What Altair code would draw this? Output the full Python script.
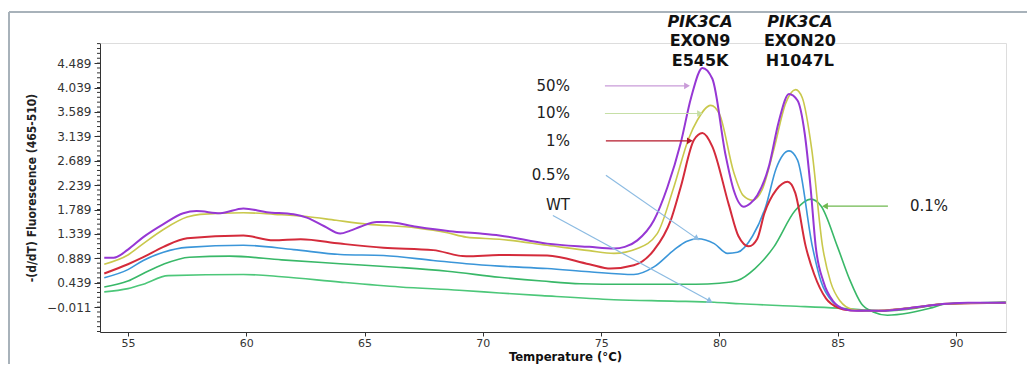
import math
import altair as alt
import pandas as pd

# ---------------- data ----------------
series_names = ["WT", "0.1%", "0.5%", "1%", "10%", "50%"]
series_colors = ["#4cc779", "#39b868", "#3b96d9", "#d42b3b", "#c9c84c", "#9637d4"]

wt_t = [54.0, 55.0, 55.65, 56.7, 59.88, 61.5, 63.97, 66.5, 69.0, 70.7, 72.5, 75.54, 78.0, 79.78, 80.9, 83.0, 85.0, 86.0, 87.0, 88.0, 89.0, 89.6, 92.1]
wt_v = [0.27, 0.33, 0.41, 0.57, 0.59, 0.55, 0.45, 0.36, 0.30, 0.25, 0.20, 0.126, 0.10, 0.08, 0.05, 0.01, -0.03, -0.06, -0.08, -0.05, 0.02, 0.05, 0.08]

p01_t = [54.0, 55.0, 55.65, 56.5, 57.6, 59.3, 61.5, 63.97, 66.5, 68.5, 70.7, 72.5, 74.13, 76.0, 79.0, 80.0, 80.76, 81.5, 82.3, 83.2, 83.86, 84.3, 84.99, 85.5, 86.0, 86.5, 87.1, 88.0, 89.0, 89.6, 92.1]
p01_v = [0.36, 0.47, 0.61, 0.78, 0.91, 0.93, 0.86, 0.79, 0.72, 0.65, 0.54, 0.47, 0.42, 0.41, 0.41, 0.43, 0.48, 0.70, 1.10, 1.77, 1.98, 1.85, 1.10, 0.50, 0.05, -0.10, -0.16, -0.12, -0.02, 0.05, 0.08]

p05_t = [54.0, 55.0, 55.65, 56.5, 57.5, 59.88, 62.0, 63.97, 65.8, 67.9, 69.3, 70.7, 72.72, 74.5, 76.38, 77.23, 78.07, 78.6, 79.07, 79.78, 80.34, 80.76, 81.4, 81.96, 82.4, 82.94, 83.3, 83.93, 84.3, 84.8, 85.4, 86.5, 88.0, 89.6, 92.1]
p05_v = [0.53, 0.68, 0.85, 1.00, 1.09, 1.13, 1.05, 0.96, 0.94, 0.85, 0.79, 0.745, 0.70, 0.64, 0.59, 0.73, 1.04, 1.20, 1.25, 1.16, 0.98, 1.00, 1.30, 1.85, 2.55, 2.87, 2.70, 1.10, 0.45, 0.08, -0.06, -0.08, -0.03, 0.05, 0.07]

p1_t = [54.0, 55.0, 55.65, 56.5, 57.5, 59.88, 61.15, 62.3, 63.97, 65.8, 67.9, 69.3, 70.7, 72.72, 74.5, 75.4, 76.38, 77.23, 77.94, 78.36, 78.92, 79.28, 79.7, 80.4, 80.8, 81.24, 81.6, 81.9, 82.4, 82.88, 83.2, 83.65, 84.0, 84.5, 85.0, 85.5, 86.5, 88.0, 89.6, 92.1]
p1_v = [0.61, 0.78, 0.91, 1.10, 1.26, 1.31, 1.22, 1.24, 1.16, 1.085, 1.04, 0.925, 0.95, 0.94, 0.78, 0.70, 0.76, 1.04, 1.59, 2.20, 3.07, 3.20, 2.95, 1.87, 1.30, 1.11, 1.25, 1.72, 2.15, 2.30, 2.10, 1.10, 0.60, 0.15, -0.02, -0.07, -0.08, -0.03, 0.05, 0.07]

p10_t = [54.0, 55.0, 55.65, 56.5, 57.5, 58.05, 59.88, 61.2, 62.56, 63.8, 65.1, 67.2, 68.5, 69.3, 70.7, 72.72, 74.5, 75.54, 76.53, 77.37, 78.07, 78.7, 79.07, 79.63, 80.0, 80.6, 81.0, 81.4, 81.8, 82.3, 82.8, 83.22, 83.5, 83.9, 84.36, 84.7, 85.1, 85.6, 86.2, 87.0, 88.0, 89.6, 92.1]
p10_v = [0.78, 0.95, 1.16, 1.42, 1.65, 1.70, 1.73, 1.70, 1.66, 1.59, 1.52, 1.45, 1.36, 1.28, 1.24, 1.13, 1.03, 0.98, 1.07, 1.345, 2.20, 3.10, 3.44, 3.71, 3.55, 2.48, 2.05, 1.96, 2.15, 2.90, 3.75, 4.00, 3.85, 2.90, 1.10, 0.45, 0.10, -0.05, -0.08, -0.07, -0.03, 0.05, 0.07]

p50_t = [54.0, 54.4, 55.0, 55.65, 56.5, 57.34, 57.9, 58.9, 59.88, 60.87, 62.0, 62.56, 63.3, 63.97, 64.4, 64.82, 65.52, 65.95, 67.2, 68.6, 69.9, 70.7, 72.72, 74.5, 75.54, 76.0, 76.53, 77.23, 77.8, 78.36, 78.8, 79.28, 79.7, 80.26, 80.6, 81.03, 81.3, 81.6, 82.1, 82.5, 82.94, 83.3, 83.6, 83.85, 84.07, 84.4, 84.8, 85.3, 85.8, 86.8, 88.0, 89.6, 90.5, 92.1]
p50_v = [0.90, 0.90, 1.05, 1.28, 1.52, 1.72, 1.76, 1.72, 1.81, 1.74, 1.70, 1.64, 1.48, 1.345, 1.40, 1.47, 1.56, 1.56, 1.47, 1.39, 1.345, 1.31, 1.16, 1.10, 1.07, 1.10, 1.22, 1.59, 2.20, 3.01, 3.85, 4.40, 4.20, 2.79, 2.15, 1.84, 1.90, 2.05, 2.60, 3.40, 3.92, 3.80, 3.20, 2.20, 1.10, 0.45, 0.10, -0.05, -0.08, -0.08, -0.03, 0.05, 0.07, 0.07]

curves_t = [wt_t, p01_t, p05_t, p1_t, p10_t, p50_t]
curves_v = [wt_v, p01_v, p05_v, p1_v, p10_v, p50_v]

y_ticks = [-0.011, 0.439, 0.889, 1.339, 1.789, 2.239, 2.689, 3.139, 3.589, 4.039, 4.489]
y_minor = [round(-0.461 + 0.09 * i, 3) for i in range(0, 60) if -0.47 < -0.461 + 0.09 * i < 4.86]
x_ticks = [55, 60, 65, 70, 75, 80, 85, 90]

# annotation labels (data coordinates)
lab_text = ["50%", "10%", "1%", "0.5%", "WT"]
lab_t = [73.68, 73.68, 73.68, 73.68, 73.68]
lab_v = [4.07, 3.56, 3.055, 2.42, 1.867]
lab01_text = ["0.1%"]
lab01_t = [88.05]
lab01_v = [1.85]

# arrows: start -> end (data coordinates)
arr_t0 = [75.16, 75.16, 75.2, 75.2, 72.96, 87.12]
arr_v0 = [4.07, 3.56, 3.055, 2.42, 1.68, 1.85]
arr_t1 = [78.63, 79.18, 78.75, 79.05, 79.6, 84.46]
arr_v1 = [4.07, 3.56, 3.055, 1.252, 0.10, 1.85]
arr_colors = ["#c99bd8", "#c6dfa6", "#b5182a", "#8cbbe2", "#8cbbe2", "#6fb84f"]

head_lines = ["PIK3CA", "EXON9", "E545K", "PIK3CA", "EXON20", "H1047L"]
head_t = [79.18, 79.18, 79.18, 83.4, 83.4, 83.4]
head_v = [5.25, 4.90, 4.53, 5.25, 4.90, 4.53]
head_style = ["italic", "normal", "normal", "italic", "normal", "normal"]

# ---------------- chart ----------------
X_DOM = [53.82, 92.11]
Y_DOM = [-0.47, 4.86]
W, H = 906, 289

xs = alt.Scale(domain=X_DOM, nice=False, zero=False)
ys = alt.Scale(domain=Y_DOM, nice=False, zero=False)

x_axis = alt.Axis(values=x_ticks, title="Temperature (°C)", grid=False,
                  labelFont="DejaVu Sans", labelFontSize=11, labelColor="#333333",
                  tickSize=4, tickColor="#333333", domainColor="#333333",
                  titleFont="Liberation Sans Narrow, DejaVu Sans Condensed, Liberation Sans",
                  titleFontSize=13, titleFontWeight="bold", titleColor="#111111",
                  titlePadding=2, labelPadding=1, titleX=W / 2 + 12)
y_axis = alt.Axis(values=y_ticks, format=".3f", title="-(d/dT) Fluorescence (465-510)", grid=False,
                  labelFont="DejaVu Sans", labelFontSize=12, labelColor="#333333",
                  tickSize=6, tickColor="#333333", domainColor="#333333",
                  titleFont="Liberation Sans Narrow, DejaVu Sans Condensed, Liberation Sans",
                  titleFontSize=12, titleFontWeight="bold", titleColor="#222222",
                  titlePadding=8, labelPadding=3)

def X(f):
    return alt.X(f, scale=xs, axis=x_axis, title="Temperature (°C)")

def Y(f):
    return alt.Y(f, scale=ys, axis=y_axis, title="-(d/dT) Fluorescence (465-510)")

layers = []
for i, name in enumerate(series_names):
    df = pd.DataFrame({"T": curves_t[i], "V": curves_v[i], "series": name})
    sw = 2.0 if name in ("50%", "1%") else 1.6
    layers.append(alt.Chart(df).mark_line(color=series_colors[i], strokeWidth=sw,
                                          interpolate="monotone").encode(x=X("T:Q"), y=Y("V:Q")))

# minor y ticks
minor_df = pd.DataFrame({"V": y_minor})
layers.append(alt.Chart(minor_df).mark_rule(color="#333333", strokeWidth=1).encode(
    y=Y("V:Q"), x=alt.value(-3), x2=alt.value(0)))

# arrows
arr_df = pd.DataFrame({"t0": arr_t0, "v0": arr_v0, "t1": arr_t1, "v1": arr_v1, "c": arr_colors})
def px(t):
    return (t - X_DOM[0]) / (X_DOM[1] - X_DOM[0]) * W
def py(v):
    return (Y_DOM[1] - v) / (Y_DOM[1] - Y_DOM[0]) * H
arr_df["ang"] = [math.degrees(math.atan2(px(b) - px(a), -(py(d) - py(c)))) % 360
                 for a, b, c, d in zip(arr_t0, arr_t1, arr_v0, arr_v1)]
layers.append(alt.Chart(arr_df).mark_rule(strokeWidth=1.2).encode(
    x=X("t0:Q"), y=Y("v0:Q"), x2="t1:Q", y2="v1:Q", color=alt.Color("c:N", scale=None)))
layers.append(alt.Chart(arr_df).mark_point(shape="triangle-up", filled=True, size=45, opacity=1).encode(
    x=X("t1:Q"), y=Y("v1:Q"), color=alt.Color("c:N", scale=None), angle=alt.Angle("ang:Q", scale=None)))

# labels
lab_df = pd.DataFrame({"t": lab_t, "v": lab_v, "txt": lab_text})
layers.append(alt.Chart(lab_df).mark_text(align="right", baseline="middle", font="DejaVu Sans",
                                          fontSize=15, color="#222222").encode(
    x=X("t:Q"), y=Y("v:Q"), text="txt:N"))
lab01_df = pd.DataFrame({"t": lab01_t, "v": lab01_v, "txt": lab01_text})
layers.append(alt.Chart(lab01_df).mark_text(align="left", baseline="middle", font="DejaVu Sans",
                                            fontSize=15, color="#222222").encode(
    x=X("t:Q"), y=Y("v:Q"), text="txt:N"))

# headings
head_df = pd.DataFrame({"t": head_t, "v": head_v, "txt": head_lines, "st": head_style})
for st in ["italic", "normal"]:
    layers.append(alt.Chart(head_df).transform_filter(alt.datum.st == st).mark_text(
        align="center", baseline="middle", font="DejaVu Sans", fontSize=16, fontWeight="bold",
        fontStyle=st, color="#111111").encode(x=X("t:Q"), y=Y("v:Q"), text="txt:N"))

# outer frame
layers.append(alt.Chart(minor_df).mark_rule(color="#a9b2ba", strokeWidth=1.5).encode(
    x=alt.value(-91), x2=alt.value(W + 21), y=alt.value(-31)))
layers.append(alt.Chart(minor_df).mark_rule(color="#a9b2ba", strokeWidth=1.5).encode(
    x=alt.value(-91), y=alt.value(-31), y2=alt.value(H + 40)))

chart = alt.layer(*layers).properties(
    width=W, height=H,
    autosize=alt.AutoSizeParams(type="none"),
    padding={"left": 92, "top": 35, "right": 21, "bottom": 32},
).configure_view(stroke="#e4e4e4").configure(background="white")

chart.save("out.html", embed_options={"renderer": "svg", "actions": False})
